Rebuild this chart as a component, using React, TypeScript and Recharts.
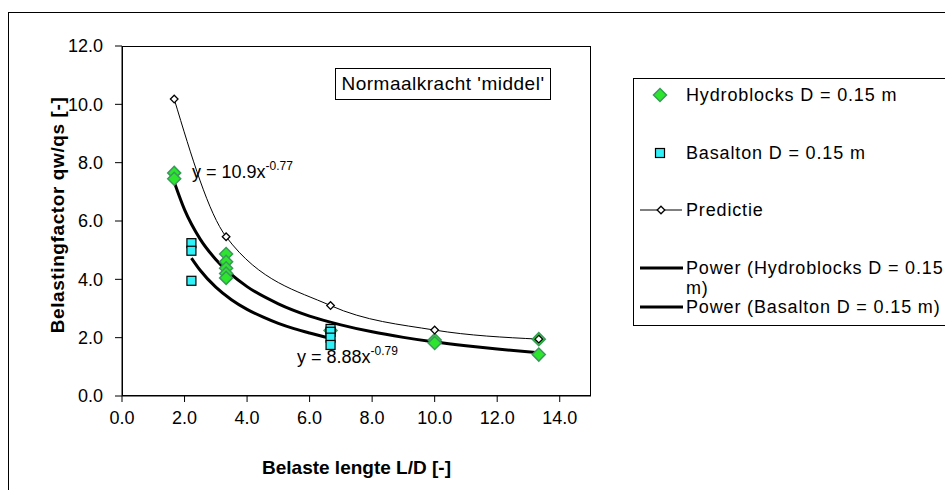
import React from "react";
import { ComposedChart, Line, Scatter, XAxis, YAxis, Label } from "recharts";

const FONT = '"Liberation Sans", Arial, Helvetica, sans-serif';

// measured points
const hydroX = [1.67, 1.67, 3.33, 3.33, 3.33, 3.33, 3.33, 6.67, 10, 10, 13.33, 13.33];
const hydroY = [7.65, 7.45, 4.87, 4.6, 4.38, 4.2, 4.05, 2.25, 1.92, 1.82, 1.95, 1.42];

const basaltonX = [2.22, 2.22, 2.22, 6.67, 6.67, 6.67, 6.67];
const basaltonY = [5.24, 4.98, 3.95, 2.3, 2.2, 2.0, 1.75];

const predX = [1.67, 3.33, 6.67, 10, 13.33];
const predY = [10.18, 5.46, 3.1, 2.26, 1.95];

// power trendlines, y = 10.9x^-0.77 and y = 8.88x^-0.79, read at a few x
const hydroFitX = [1.67, 2, 2.5, 3, 4, 5, 6, 7, 8, 9, 10, 11, 12, 13.33];
const hydroFitY = [7.34, 6.39, 5.38, 4.68, 3.75, 3.16, 2.74, 2.44, 2.2, 2.01, 1.85, 1.72, 1.61, 1.48];

const basaltonFitX = [2.22, 2.5, 3, 3.5, 4, 4.5, 5, 5.5, 6, 6.67];
const basaltonFitY = [4.73, 4.31, 3.73, 3.3, 2.97, 2.71, 2.49, 2.31, 2.16, 1.98];

const xTicks = [0, 2, 4, 6, 8, 10, 12, 14];
const yTicks = [0, 2, 4, 6, 8, 10, 12];

const seriesNames = [
  "Hydroblocks D = 0.15 m",
  "Basalton D = 0.15 m",
  "Predictie",
  "Power (Hydroblocks D = 0.15 m)",
  "Power (Basalton D = 0.15 m)",
];

const GREEN = "#2ee52e";
const GREEN_EDGE = "#3a9a5a";
const CYAN = "#30f0f8";

const zip = (xs: number[], ys: number[]) => xs.map((x, i) => ({ x, y: ys[i] }));

const diamondPath = (cx: number, cy: number, r: number) =>
  `M${cx},${cy - r}L${cx + r},${cy}L${cx},${cy + r}L${cx - r},${cy}Z`;

function HydroShape(p: any) {
  return <path d={diamondPath(p.cx, p.cy, 6.5)} fill={GREEN} stroke={GREEN_EDGE} strokeWidth={1.5} />;
}

function BasaltonShape(p: any) {
  return (
    <rect x={p.cx - 4.5} y={p.cy - 4.5} width={9} height={9} fill={CYAN} stroke="#000" strokeWidth={1.2} />
  );
}

function PredDot(p: any) {
  return (
    <path key={p.index} d={diamondPath(p.cx, p.cy, 3.8)} fill="#fff" stroke="#000" strokeWidth={1.3} />
  );
}

const tickStyle = { fontFamily: FONT, fontSize: 18, fill: "#000" };

export default function App() {
  const legendText: React.CSSProperties = {
    position: "absolute",
    left: 686,
    fontSize: 18,
    letterSpacing: 0.85,
    lineHeight: "20px",
    whiteSpace: "nowrap",
  };
  return (
    <div
      style={{
        position: "fixed",
        left: 0,
        top: 0,
        width: 945,
        height: 490,
        overflow: "hidden",
        background: "#fff",
        fontFamily: FONT,
        color: "#000",
      }}
    >
      <div style={{ position: "absolute", left: 8, top: 12, width: 1000, height: 1000, border: "1px solid #000" }} />
      <div style={{ position: "absolute", left: 0, top: 0 }}>
        <ComposedChart width={945} height={490} margin={{ top: 46, right: 354, bottom: 0, left: 0 }}>
          <XAxis
            type="number"
            dataKey="x"
            domain={[0, 15]}
            ticks={xTicks}
            tickFormatter={(v: number) => v.toFixed(1)}
            tick={tickStyle}
            tickSize={6}
            tickMargin={9}
            height={94}
            stroke="#000"
            allowDataOverflow
          >
            <Label
              value="Belaste lengte L/D [-]"
              position="insideBottom"
              offset={16}
              style={{ fontFamily: FONT, fontSize: 19, fontWeight: "bold", fill: "#000" }}
            />
          </XAxis>
          <YAxis
            type="number"
            dataKey="y"
            domain={[0, 12]}
            ticks={yTicks}
            tickFormatter={(v: number) => v.toFixed(1)}
            tick={tickStyle}
            tickSize={7}
            tickMargin={12}
            width={122}
            stroke="#000"
            allowDataOverflow
          >
            <Label
              content={(props: any) => {
                const vb = props.viewBox;
                const x = vb.x + 57;
                const y = vb.y + vb.height / 2 - 6;
                return (
                  <text
                    x={x}
                    y={y}
                    transform={`rotate(-90, ${x}, ${y})`}
                    textAnchor="middle"
                    dominantBaseline="central"
                    style={{ fontFamily: FONT, fontSize: 19, fontWeight: "bold", letterSpacing: 0.6, fill: "#000" }}
                  >
                    Belastingfactor qw/qs [-]
                  </text>
                );
              }}
            />
          </YAxis>
          <Scatter
            name={seriesNames[0]}
            data={zip(hydroX, hydroY)}
            shape={HydroShape}
            isAnimationActive={false}
          />
          <Scatter
            name={seriesNames[1]}
            data={zip(basaltonX, basaltonY)}
            shape={BasaltonShape}
            isAnimationActive={false}
          />
          <Line
            name={seriesNames[2]}
            data={zip(predX, predY)}
            dataKey="y"
            type="monotone"
            stroke="#000"
            strokeWidth={1}
            dot={PredDot}
            activeDot={false}
            isAnimationActive={false}
          />
          <Line
            name={seriesNames[3]}
            data={zip(hydroFitX, hydroFitY)}
            dataKey="y"
            type="monotone"
            stroke="#000"
            strokeWidth={3}
            dot={false}
            activeDot={false}
            isAnimationActive={false}
          />
          <Line
            name={seriesNames[4]}
            data={zip(basaltonFitX, basaltonFitY)}
            dataKey="y"
            type="monotone"
            stroke="#000"
            strokeWidth={3}
            dot={false}
            activeDot={false}
            isAnimationActive={false}
          />
        </ComposedChart>
      </div>

      {/* plot area frame */}
      <div
        style={{
          position: "absolute",
          left: 122,
          top: 46,
          width: 469,
          height: 350,
          border: "1px solid #000",
          boxSizing: "border-box",
          pointerEvents: "none",
        }}
      />

      {/* title box */}
      <div
        style={{
          position: "absolute",
          left: 335,
          top: 68,
          width: 216,
          height: 32,
          border: "1px solid #000",
          boxSizing: "border-box",
          background: "#fff",
          fontSize: 19,
          letterSpacing: 0.5,
          lineHeight: "30px",
          textAlign: "center",
          whiteSpace: "nowrap",
        }}
      >
        Normaalkracht 'middel'
      </div>

      {/* trendline equations */}
      <div style={{ position: "absolute", left: 192, top: 161, fontSize: 18, whiteSpace: "nowrap", lineHeight: "22px" }}>
        y = 10.9x<span style={{ fontSize: 12, position: "relative", top: -8 }}>-0.77</span>
      </div>
      <div style={{ position: "absolute", left: 297, top: 346, fontSize: 18, whiteSpace: "nowrap", lineHeight: "22px" }}>
        y = 8.88x<span style={{ fontSize: 12, position: "relative", top: -8 }}>-0.79</span>
      </div>

      {/* legend */}
      <div
        style={{
          position: "absolute",
          left: 633,
          top: 78,
          width: 400,
          height: 248,
          border: "1px solid #000",
          boxSizing: "border-box",
        }}
      />
      <svg style={{ position: "absolute", left: 0, top: 0 }} width={945} height={490}>
        <path d={diamondPath(660, 95, 6.5)} fill={GREEN} stroke={GREEN_EDGE} strokeWidth={1.5} />
        <rect x={655.5} y={148.5} width={9} height={9} fill={CYAN} stroke="#000" strokeWidth={1.2} />
        <line x1={640} y1={210} x2={682} y2={210} stroke="#000" strokeWidth={1} />
        <path d={diamondPath(661, 210, 3.8)} fill="#fff" stroke="#000" strokeWidth={1.3} />
        <line x1={640} y1={268} x2={683} y2={268} stroke="#000" strokeWidth={3} />
        <line x1={640} y1={307} x2={683} y2={307} stroke="#000" strokeWidth={3} />
      </svg>
      <div style={{ ...legendText, top: 85 }}>{seriesNames[0]}</div>
      <div style={{ ...legendText, top: 143 }}>{seriesNames[1]}</div>
      <div style={{ ...legendText, top: 200 }}>{seriesNames[2]}</div>
      <div style={{ ...legendText, top: 258 }}>
        Power (Hydroblocks D = 0.15
        <br />
        m)
      </div>
      <div style={{ ...legendText, top: 297 }}>{seriesNames[4]}</div>
    </div>
  );
}
